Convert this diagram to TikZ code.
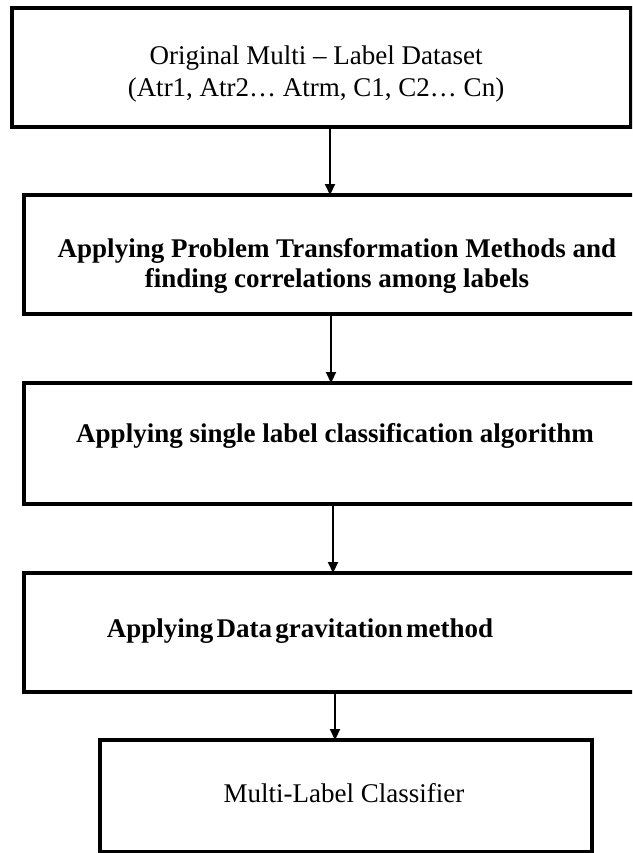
\documentclass[tikz,border=0pt]{standalone}
\usepackage{fontspec}
\setmainfont{Liberation Serif}
\usetikzlibrary{arrows.meta}

\tikzset{
  stagebox/.style={draw=black, line width=3.2pt, fill=none, rectangle,
    inner sep=0pt, outer sep=0pt, anchor=north west},
  plainlabel/.style={font=\fontsize{27}{31}\selectfont, inner sep=0pt, anchor=base},
  boldlabel/.style={font=\fontsize{27}{30}\selectfont\bfseries, inner sep=0pt, anchor=base},
  flow/.style={draw=black, line width=2.2pt,
    -{Triangle[length=11pt, width=10pt]}}
}

\begin{document}
\begin{tikzpicture}[x=1pt, y=-1pt]
  \useasboundingbox (0,0) rectangle (632,853);
  \fill[white] (0,0) rectangle (632,853);
  \clip (0,0) rectangle (632,853);

  % process stages
  \node[stagebox, minimum width=619pt, minimum height=119pt] (b1) at (12,8) {};
  \node[stagebox, minimum width=640pt, minimum height=119pt] (b2) at (24,195) {};
  \node[stagebox, minimum width=640pt, minimum height=121pt] (b3) at (24,383) {};
  \node[stagebox, minimum width=640pt, minimum height=119pt] (b4) at (24,573) {};
  \node[stagebox, minimum width=492pt, minimum height=112pt] (b5) at (100,740) {};

  % stage texts
  \node[plainlabel] (t1a) at (316,65) {Original Multi – Label Dataset};
  \node[plainlabel] (t1b) at (316,97) {(Atr1, Atr2… Atrm, C1, C2… Cn)};
  \node[boldlabel] (t2a) at (337,257) {Applying Problem Transformation Methods and};
  \node[boldlabel] (t2b) at (337,287) {finding correlations among labels};
  \node[boldlabel] (t3) at (335,442) {Applying single label classification algorithm};
  \node[boldlabel] (t4) at (300,637) {\spaceskip=3.2pt Applying Data gravitation method};
  \node[plainlabel] (t5) at (344,802) {Multi-Label Classifier};

  % connectors
  \coordinate (x1) at (330,0);
  \coordinate (x2) at (331,0);
  \coordinate (x3) at (333,0);
  \coordinate (x4) at (335,0);
  \draw[flow] (b1.south -| x1) -- (b2.north -| x1);
  \draw[flow] (b2.south -| x2) -- (b3.north -| x2);
  \draw[flow] (b3.south -| x3) -- (b4.north -| x3);
  \draw[flow] (b4.south -| x4) -- (b5.north -| x4);
\end{tikzpicture}
\end{document}
